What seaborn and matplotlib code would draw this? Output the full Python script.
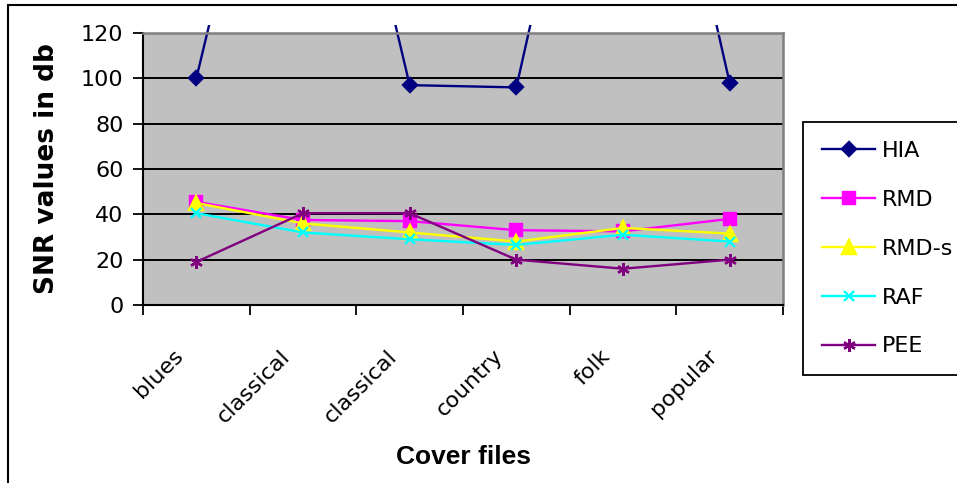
import numpy as np
import pandas as pd
import matplotlib
matplotlib.use("Agg")
import matplotlib.pyplot as plt
import matplotlib.transforms as mtransforms
from matplotlib.patches import Rectangle
from matplotlib.lines import Line2D
import seaborn as sns

# ---- data ----
categories = ["blues", "classical", "classical", "country", "folk", "popular"]
series_names = ["HIA", "RMD", "RMD-s", "RAF", "PEE"]
hia = [100, 296, 97, 96, 305, 98]
rmd = [45.5, 37.5, 37, 33, 32.5, 38]
rmd_s = [45, 36, 32, 28, 34, 31.5]
raf = [40.5, 32, 29, 26.5, 31, 28]
pee = [19, 40.5, 40.5, 20, 16, 20]
y_ticks = [0, 20, 40, 60, 80, 100, 120]

values = {"HIA": hia, "RMD": rmd, "RMD-s": rmd_s, "RAF": raf, "PEE": pee}
colors = {"HIA": "#000080", "RMD": "#FF00FF", "RMD-s": "#FFFF00",
          "RAF": "#00FFFF", "PEE": "#800080"}
markers = {"HIA": "D", "RMD": "s", "RMD-s": "^", "RAF": "x", "PEE": (6, 2, 0)}
msizes = {"HIA": 7.3, "RMD": 8.5, "RMD-s": 9.5, "RAF": 7.5, "PEE": 9.0}

rows = []
for s in series_names:
    for i, v in enumerate(values[s]):
        rows.append({"pos": i, "value": v, "series": s})
df = pd.DataFrame(rows)

plt.rcParams["font.family"] = ["DejaVu Sans"]

fig = plt.figure(figsize=(9.57, 4.83), dpi=100)
ax = fig.add_axes([143 / 957, 1 - 305 / 483, 640 / 957, 272 / 483])
ax.set_facecolor("#C0C0C0")

for s in series_names:
    sub = df[df["series"] == s]
    sns.lineplot(data=sub, x="pos", y="value", ax=ax, color=colors[s],
                 marker=markers[s], markersize=msizes[s],
                 markeredgecolor=colors[s], markerfacecolor=colors[s],
                 markeredgewidth=1.7, linewidth=1.7, legend=False,
                 estimator=None, sort=False)

# allow lines to run a little above the plot area like the original
clip_rect = Rectangle((0, -0.02), 1, 1.02 + 8 / 272, transform=ax.transAxes)
for ln in ax.lines:
    ln.set_clip_path(clip_rect)

ax.set_xlim(-0.5, len(categories) - 0.5)
ax.set_ylim(0, 120)
ax.set_yticks(y_ticks)
ax.set_yticklabels([str(t) for t in y_ticks])
ax.yaxis.grid(True, color="black", linewidth=1.4)
ax.xaxis.grid(False)
ax.set_axisbelow(True)

ax.set_xticks(range(len(categories)))
ax.set_xticklabels(categories, rotation=45, ha="right", va="center",
                   rotation_mode="anchor", fontsize=16)
ax.set_xticks(np.arange(-0.5, len(categories), 1), minor=True)
ax.tick_params(axis="x", which="major", length=0, pad=0)
ax.tick_params(axis="x", which="minor", length=7, width=1.3, color="black",
               direction="out")
ax.tick_params(axis="y", length=7, width=1.3, color="black", pad=7,
               labelsize=16, direction="out")
offset = mtransforms.ScaledTranslation(-16 / 100, -48 / 100, fig.dpi_scale_trans)
for lbl in ax.get_xticklabels():
    lbl.set_transform(lbl.get_transform() + offset)

for side in ["left", "bottom"]:
    ax.spines[side].set_color("black")
    ax.spines[side].set_linewidth(1.5)
for side in ["top", "right"]:
    ax.spines[side].set_color("#808080")
    ax.spines[side].set_linewidth(1.8)

ax.set_ylabel("SNR values in db", fontsize=19, fontweight="bold")
ax.yaxis.set_label_coords(-0.13, 0.5)
ax.set_xlabel("Cover files", fontsize=19, fontweight="bold",
              family=["Liberation Sans", "DejaVu Sans"])
ax.xaxis.set_label_coords(0.5, -0.515)

handles = [Line2D([], [], color=colors[s], marker=markers[s],
                  markersize=msizes[s], markeredgecolor=colors[s],
                  markerfacecolor=colors[s], markeredgewidth=1.7,
                  linewidth=1.7) for s in series_names]
leg = ax.legend(handles, series_names, loc="upper left",
                bbox_to_anchor=(803 / 957, 1 - 122 / 483),
                bbox_transform=fig.transFigure, frameon=True, fancybox=False,
                edgecolor="black", framealpha=1, fontsize=16,
                handlelength=2.4, handletextpad=0.3, labelspacing=1.3,
                borderpad=0.85, borderaxespad=0)
leg.get_frame().set_linewidth(1.3)

# outer chart border
fig.patches.append(Rectangle((8 / 957, -0.1), 1.2, 1 - 5 / 483 + 0.1,
                             transform=fig.transFigure, fill=False,
                             edgecolor="black", linewidth=1.5))

fig.savefig("out.png", dpi=100, facecolor="white")
